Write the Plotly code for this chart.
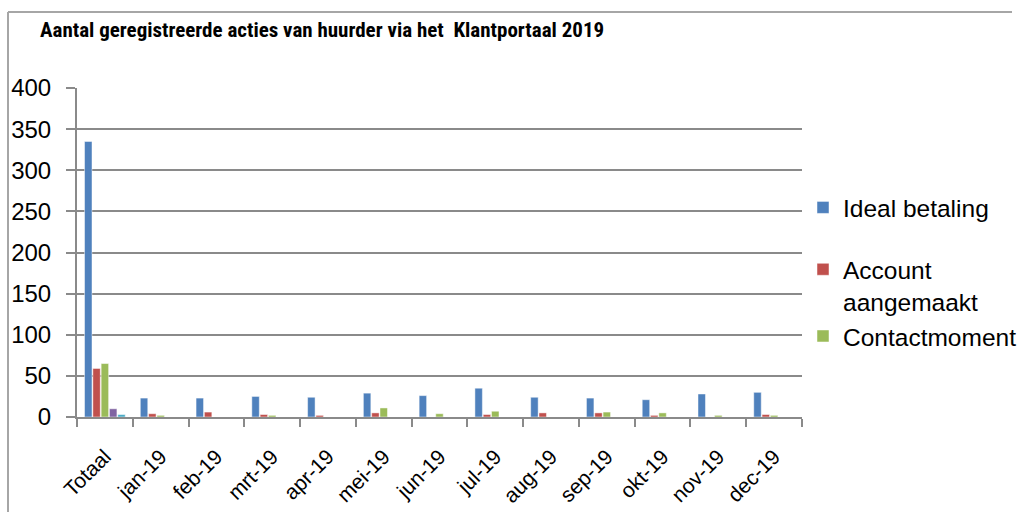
import plotly.graph_objects as go

# Categories on the x axis
categories = ["Totaal", "jan-19", "feb-19", "mrt-19", "apr-19", "mei-19", "jun-19",
              "jul-19", "aug-19", "sep-19", "okt-19", "nov-19", "dec-19"]

# Series values per category
ideal_betaling = [335, 23, 23, 25, 24, 29, 26, 35, 24, 23, 21, 28, 30]
account_aangemaakt = [59, 4, 6, 3, 2, 5, 0, 3, 5, 5, 2, 0, 3]
contactmoment = [65, 2, 0, 2, 0, 11, 4, 7, 0, 6, 5, 2, 2]
serie_4 = [10, 0, 0, 0, 0, 0, 0, 0, 0, 0, 0, 0, 0]
serie_5 = [3, 0, 0, 0, 0, 0, 0, 0, 0, 0, 0, 0, 0]

y_ticks = [0, 50, 100, 150, 200, 250, 300, 350, 400]

W, H = 1021, 512
L, R, T, B = 77, 219, 88, 95
PW, PH = W - L - R, H - T - B

def px_x(x):
    return (x - L) / PW

def px_y(y):
    return (H - B - y) / PH

# name, values, colour, shown in legend, legend group
series = [
    ("Ideal betaling", ideal_betaling, "#4F81BD", True, "g1"),
    ("Account<br>aangemaakt", account_aangemaakt, "#C0504D", True, "g2"),
    ("Contactmoment", contactmoment, "#9BBB59", True, "g2"),
    ("Serie 4", serie_4, "#8064A2", False, "g3"),
    ("Serie 5", serie_5, "#4BACC6", False, "g3"),
]

fig = go.Figure()
for name, vals, color, show, group in series:
    fig.add_trace(go.Bar(
        x=categories, y=vals, name=name, showlegend=show, legendgroup=group,
        marker=dict(color=color, line=dict(color="rgba(255,255,255,0.8)", width=0.6)),
    ))

font_main = "Liberation Sans, Arial, sans-serif"
grid = "#8a8a8a"

fig.update_layout(
    width=W, height=H,
    margin=dict(l=L, r=R, t=T, b=B, autoexpand=False),
    paper_bgcolor="white", plot_bgcolor="white",
    barmode="group", bargap=0.255, bargroupgap=0.1,
    font=dict(family=font_main, color="#000000"),
    title=dict(
        text="<b>Aantal geregistreerde acties van huurder via het  Klantportaal 2019</b>",
        font=dict(family="Liberation Sans Narrow, Arial Narrow, Roboto Condensed, sans-serif", size=21, color="#000000"),
        xref="container", yref="container", x=40 / W, xanchor="left", y=1 - 30 / H, yanchor="middle",
    ),
    legend=dict(
        xref="container", yref="container",
        x=803 / W, xanchor="left", y=1 - 185 / H, yanchor="top",
        font=dict(family=font_main, size=24.5, color="#000000"),
        valign="top", tracegroupgap=27, bgcolor="rgba(0,0,0,0)",
        itemclick=False, groupclick="toggleitem",
    ),
    xaxis=dict(
        type="category", tickson="boundaries", ticks="outside", ticklen=8, tickwidth=2,
        tickcolor=grid, showline=True, linecolor=grid, linewidth=2,
        tickangle=-45, tickfont=dict(family=font_main, size=21, color="#000000"),
        ticklabelstandoff=17, showgrid=False, automargin=False,
    ),
    yaxis=dict(
        range=[0, 400], tickvals=y_ticks, ticks="outside", ticklen=9, tickwidth=2,
        tickcolor=grid, showline=True, linecolor=grid, linewidth=2,
        showgrid=True, gridcolor=grid, gridwidth=2, zeroline=False,
        tickfont=dict(family=font_main, size=24, color="#000000"),
        ticklabelstandoff=10, automargin=False,
    ),
    shapes=[
        dict(type="line", xref="paper", yref="paper", x0=px_x(8), x1=px_x(1012),
             y0=px_y(12), y1=px_y(12), line=dict(color="#a6a6a6", width=2)),
        dict(type="line", xref="paper", yref="paper", x0=px_x(8), x1=px_x(8),
             y0=px_y(12), y1=px_y(515), line=dict(color="#a6a6a6", width=2)),
    ],
)

fig.write_html("out.html")
